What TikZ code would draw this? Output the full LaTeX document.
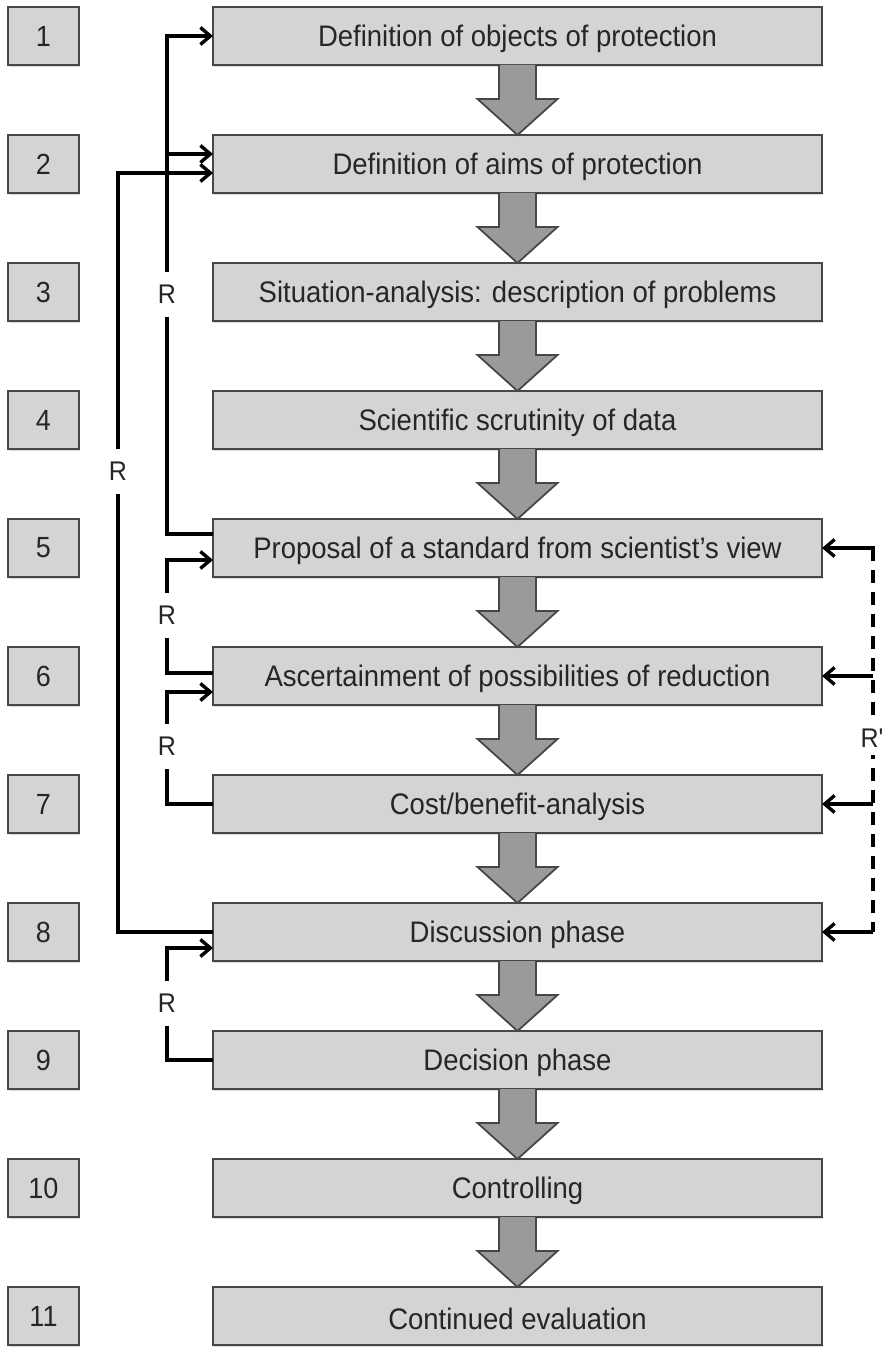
\documentclass[tikz,border=0pt]{standalone}
\usepackage{fontspec}
\setmainfont{Liberation Sans}
\usetikzlibrary{arrows.meta,shadows,calc}
\definecolor{boxfill}{HTML}{D4D4D4}
\definecolor{boxline}{HTML}{474747}
\definecolor{arrfill}{HTML}{9A9A9A}
\definecolor{txt}{HTML}{262626}
\newcommand\vtxt[1]{\scalebox{1}[1.08]{#1}}
\newcommand\mtxt[1]{\raisebox{-3pt}[\height][\depth]{\scalebox{1}[1.08]{#1}}}
\begin{document}
\begin{tikzpicture}[x=1pt,y=-1pt,
  basebox/.style={draw=boxline,fill=boxfill,line width=2.2pt,minimum height=58pt,inner sep=0pt,outer sep=0pt,text=txt,
    drop shadow={shadow xshift=1.2pt,shadow yshift=-1.8pt,opacity=0.3}},
  mainbox/.style={basebox,minimum width=609pt,font=\fontsize{27.5}{30}\selectfont},
  numbox/.style={basebox,minimum width=71pt,font=\fontsize{27}{28}\selectfont},
  fb/.style={line width=3.4pt,line join=miter,-{Straight Barb[length=10pt,width=17pt]}},
  plainline/.style={line width=3.4pt},
  rlab/.style={fill=white,inner sep=0pt,minimum width=22pt,minimum height=45pt,font=\fontsize{25}{25}\selectfont,text=txt},
  blockarr/.style={draw=boxline,fill=arrfill,line width=1.8pt,line join=miter}]
\useasboundingbox (0,0) rectangle (891,1348);

% number boxes
\node[numbox] (n1) at (43.5,36) {\vtxt{1}};
\node[numbox] (n2) at (43.5,164) {\vtxt{2}};
\node[numbox] (n3) at (43.5,292) {\vtxt{3}};
\node[numbox] (n4) at (43.5,420) {\vtxt{4}};
\node[numbox] (n5) at (43.5,548) {\vtxt{5}};
\node[numbox] (n6) at (43.5,676) {\vtxt{6}};
\node[numbox] (n7) at (43.5,804) {\vtxt{7}};
\node[numbox] (n8) at (43.5,932) {\vtxt{8}};
\node[numbox] (n9) at (43.5,1060) {\vtxt{9}};
\node[numbox] (n10) at (43.5,1188) {\vtxt{10}};
\node[numbox] (n11) at (43.5,1316) {\vtxt{11}};

% main boxes
\node[mainbox] (b1) at (517.5,36) {\mtxt{Definition of objects of protection}};
\node[mainbox] (b2) at (517.5,164) {\mtxt{Definition of aims of protection}};
\node[mainbox] (b3) at (517.5,292) {\mtxt{Situation-analysis: description of problems}};
\node[mainbox] (b4) at (517.5,420) {\mtxt{Scientific scrutinity of data}};
\node[mainbox] (b5) at (517.5,548) {\mtxt{Proposal of a standard from scientist’s view}};
\node[mainbox] (b6) at (517.5,676) {\mtxt{Ascertainment of possibilities of reduction}};
\node[mainbox] (b7) at (517.5,804) {\mtxt{Cost/benefit-analysis}};
\node[mainbox] (b8) at (517.5,932) {\mtxt{Discussion phase}};
\node[mainbox] (b9) at (517.5,1060) {\mtxt{Decision phase}};
\node[mainbox] (b10) at (517.5,1188) {\mtxt{Controlling}};
\node[mainbox] (b11) at (517.5,1316) {\mtxt{Continued evaluation}};

% block arrows
\foreach \i [evaluate=\i as \j using int(\i+1)] in {1,...,10} {
  \filldraw[blockarr] ([xshift=-18.5pt]b\i.south) -- ([xshift=-18.5pt,yshift=-34pt]b\i.south)
    -- ([xshift=-40pt,yshift=-34pt]b\i.south) -- (b\j.north)
    -- ([xshift=40pt,yshift=-34pt]b\i.south) -- ([xshift=18.5pt,yshift=-34pt]b\i.south)
    -- ([xshift=18.5pt]b\i.south);
}

% feedback connectors
\coordinate (xa) at (167,0);
\coordinate (xb) at (118,0);
\coordinate (xr) at (873,0);
\coordinate (b5o) at ([yshift=14pt]b5.west);
\coordinate (b2a) at ([yshift=10pt]b2.west);
\coordinate (b2b) at ([yshift=-9pt]b2.west);
\coordinate (b5i) at ([yshift=-12pt]b5.west);
\coordinate (b6o) at ([yshift=3pt]b6.west);
\coordinate (b6i) at ([yshift=-16pt]b6.west);
\coordinate (b8i) at ([yshift=-16pt]b8.west);

\draw[fb] (b5o) -| (xa |- b1.west) -- (b1.west);
\draw[fb] (xa |- b2a) -- (b2a);
\draw[fb] (b8.west) -| (xb |- b2b) -- (b2b);
\draw[fb] (b6o) -| (xa |- b5i) -- (b5i);
\draw[fb] (b7.west) -| (xa |- b6i) -- (b6i);
\draw[fb] (b9.west) -| (xa |- b8i) -- (b8i);

% right dashed feedback
\draw[plainline,dash pattern=on 13pt off 9pt] ($(xr |- b5.east)+(0,22)$) -- (xr |- b8.east);
\draw[fb] ($(xr |- b5.east)+(0,13)$) -- (xr |- b5.east) -- (b5.east);
\draw[fb] (xr |- b6.east) -- (b6.east);
\draw[fb] (xr |- b7.east) -- (b7.east);
\draw[fb] (xr |- b8.east) -- (b8.east);

% labels
\node[rlab] (r1) at (167,294) {\vtxt{R}};
\node[rlab] (r2) at (118,471) {\vtxt{R}};
\node[rlab] (r3) at (167,615) {\vtxt{R}};
\node[rlab] (r4) at (167,746) {\vtxt{R}};
\node[rlab] (r5) at (167,1003) {\vtxt{R}};
\node[rlab,minimum height=34pt] (r6) at (872,738) {\vtxt{\addfontfeature{Ligatures=TeXOff}R'}};
\end{tikzpicture}
\end{document}
